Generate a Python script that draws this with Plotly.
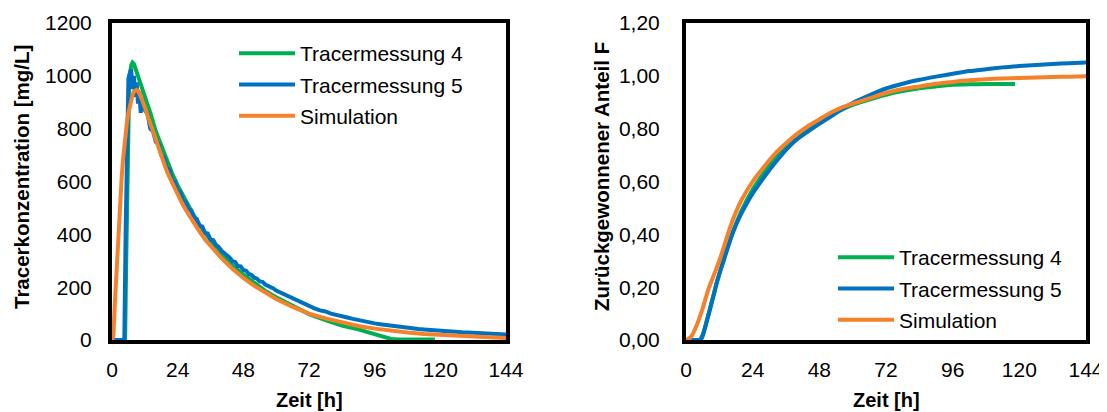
import plotly.graph_objects as go

# ---------------- data: tracer concentration (left chart) ----------------
t_meas4 = [0, 4.8, 5.2, 5.8, 6.3, 7.0, 7.5, 8, 9, 10, 12, 14, 16, 18, 20, 22, 24, 26, 28, 30,
           32, 34, 36, 38, 40, 44, 48, 52, 56, 60, 66, 72, 78, 84, 90, 94, 98, 102, 105, 112, 118]
c_meas4 = [0, 0, 300, 800, 980, 1040, 1050, 1045, 1015, 985, 925, 860, 790, 735, 680, 630,
           585, 545, 505, 470, 435, 405, 375, 350, 325, 282, 248, 215, 186, 162, 128, 98, 75,
           55, 40, 28, 15, 4, 2, 2, 2]

t_meas5 = [0, 1, 2, 3, 4, 4.5, 5, 5.5, 6, 6.5, 7, 7.5, 8, 8.5, 9, 9.5, 10, 10.5, 11, 12, 13,
           14, 15, 16, 17, 18, 19, 20, 21, 22, 23, 24, 25, 26, 27, 28, 29, 30, 31, 32, 33,
           34, 35, 36, 37, 38, 39, 40, 41, 42, 43, 44, 45, 46, 47, 48, 49, 50, 51, 52, 53,
           54, 55, 56, 57, 58, 59, 60, 61, 62, 63, 64, 65, 66, 67, 68, 69, 70, 71, 72, 74,
           76, 78, 80, 82, 84, 86, 88, 90, 92, 94, 96, 98, 100, 102, 104, 106, 108, 110,
           112, 114, 116, 118, 120, 122, 124, 126, 128, 130, 132, 134, 136, 138, 140, 142, 144]
c_meas5 = [0, 0, 0, 0, 0, 0, 420, 830, 990, 1010, 1025, 950, 1000, 920, 975, 895, 940, 860,
           915, 870, 855, 800, 790, 750, 742, 700, 692, 650, 645, 600, 598, 565, 560, 525,
           522, 495, 490, 462, 458, 432, 430, 405, 403, 380, 378, 360, 352, 338, 330, 318,
           312, 298, 295, 280, 279, 265, 262, 250, 246, 236, 232, 222, 220, 210, 206, 198,
           195, 187, 182, 176, 174, 166, 163, 156, 153, 147, 142, 136, 132, 128, 120, 112,
           108, 100, 96, 89, 85, 80, 75, 71, 66, 63, 60, 57, 54, 52, 49, 47, 44, 42, 40, 38,
           36, 35, 33, 32, 30, 29, 28, 27, 26, 25, 24, 23, 22, 21]

t_sim = [0, 0.5, 1, 1.5, 2, 2.5, 3, 3.5, 4, 4.5, 5, 5.5, 6, 6.5, 7, 7.5, 8, 8.5, 9, 9.5, 10,
         11, 12, 13, 14, 15, 16, 17, 18, 19, 20, 22, 24, 26, 28, 30, 32, 34, 36, 38, 40, 44,
         48, 52, 56, 60, 66, 72, 78, 84, 90, 96, 102, 108, 114, 120, 126, 132, 138, 144]
c_sim = [0, 15, 130, 235, 340, 440, 530, 610, 680, 740, 790, 828, 860, 887, 910, 927, 940,
         945, 947, 944, 935, 910, 880, 850, 820, 785, 750, 725, 700, 670, 640, 595, 550, 510,
         475, 440, 410, 380, 355, 330, 310, 270, 235, 205, 178, 155, 125, 100, 82, 66, 53,
         43, 35, 28, 23, 19, 15, 12, 10, 8]

# ---------------- data: recovered fraction F (right chart) ----------------
tF_meas4 = [0, 4.8, 6, 8, 10, 12, 14, 16, 18, 20, 24, 28, 32, 36, 40, 44, 48, 52, 56, 60,
            66, 72, 78, 84, 90, 96, 102, 108, 114, 118.5]
F_meas4 = [0, 0, 0.02, 0.095, 0.175, 0.25, 0.32, 0.385, 0.44, 0.49, 0.57, 0.632, 0.686,
           0.728, 0.768, 0.8, 0.828, 0.853, 0.872, 0.89, 0.91, 0.928, 0.942, 0.953, 0.96,
           0.966, 0.968, 0.969, 0.969, 0.969]

tF_meas5 = [0, 4, 5.3, 6, 7, 8, 9, 10, 11, 12, 14, 16, 18, 20, 24, 28, 32, 36, 40, 44, 48,
            52, 56, 60, 66, 72, 78, 84, 90, 96, 102, 108, 114, 120, 126, 132, 138, 144]
F_meas5 = [0, 0, 0, 0.015, 0.05, 0.09, 0.13, 0.17, 0.215, 0.25, 0.315, 0.38, 0.435, 0.48,
           0.555, 0.615, 0.67, 0.72, 0.76, 0.79, 0.818, 0.845, 0.872, 0.897, 0.926, 0.952,
           0.97, 0.985, 0.997, 1.008, 1.018, 1.025, 1.032, 1.037, 1.041, 1.045, 1.048, 1.05]

tF_sim = [0, 1, 2, 4, 6, 8, 10, 12, 14, 16, 18, 20, 24, 28, 32, 36, 40, 44, 48, 52, 56, 60,
          66, 72, 78, 84, 90, 96, 102, 108, 114, 120, 126, 132, 138, 144]
F_sim = [0, 0.005, 0.015, 0.06, 0.12, 0.19, 0.245, 0.30, 0.365, 0.43, 0.485, 0.53, 0.60,
         0.655, 0.705, 0.745, 0.78, 0.81, 0.835, 0.86, 0.88, 0.895, 0.915, 0.935, 0.95, 0.96,
         0.97, 0.977, 0.983, 0.987, 0.99, 0.992, 0.994, 0.996, 0.997, 0.998]

x_ticks = [0, 24, 48, 72, 96, 120, 144]
names = ["Tracermessung 4", "Tracermessung 5", "Simulation"]
colors = ["#00B050", "#0070C0", "#F5822A"]

FONT = "Liberation Sans, Arial, sans-serif"
OFF = 8                      # default page body margin
W, H = 1107 - OFF, 412 - OFF

fig = go.Figure()

left_series = [(t_meas4, c_meas4), (t_meas5, c_meas5), (t_sim, c_sim)]
right_series = [(tF_meas4, F_meas4), (tF_meas5, F_meas5), (tF_sim, F_sim)]

for i, (xs, ys) in enumerate(left_series):
    fig.add_trace(go.Scatter(x=xs, y=ys, mode="lines", name=names[i],
                             line=dict(color=colors[i], width=4, shape="linear"),
                             xaxis="x", yaxis="y", legend="legend",
                             legendgroup="l%d" % i))
for i, (xs, ys) in enumerate(right_series):
    fig.add_trace(go.Scatter(x=xs, y=ys, mode="lines", name=names[i],
                             line=dict(color=colors[i], width=4, shape="spline",
                                       smoothing=0.6),
                             xaxis="x2", yaxis="y2", legend="legend2",
                             legendgroup="r%d" % i))

def px_x(p):
    return (p - OFF) / W

def px_y(p):
    return 1 - (p - OFF) / H

ydom = [px_y(340), px_y(23)]

axis_common = dict(showgrid=False, zeroline=False, showline=True, linecolor="black",
                   linewidth=4, mirror=True, ticks="outside", tickcolor="rgba(0,0,0,0)",
                   automargin=False, ticklabeloverflow="allow",
                   tickfont=dict(family=FONT, size=21, color="#000000"))

def title_ann(text, x, y, angle=0, size=21):
    return dict(text="<b>%s</b>" % text, x=px_x(x), y=px_y(y), xref="paper", yref="paper",
                xanchor="center", yanchor="middle", showarrow=False, textangle=angle,
                font=dict(family=FONT, size=size, color="#000000"))

fig.update_layout(
    width=W, height=H,
    margin=dict(l=0, r=0, t=0, b=0),
    paper_bgcolor="white", plot_bgcolor="white",
    separators=",.",
    xaxis=dict(domain=[px_x(112), px_x(506)], range=[0, 144], tickvals=x_ticks,
               ticklen=8, anchor="y", **axis_common),
    yaxis=dict(domain=ydom, range=[0, 1200], dtick=200, ticklen=12, anchor="x",
               **axis_common),
    xaxis2=dict(domain=[px_x(686), px_x(1086)], range=[0, 144], tickvals=x_ticks,
                ticklen=8, anchor="y2", **axis_common),
    yaxis2=dict(domain=ydom, range=[0, 1.2], dtick=0.2, tickformat=".2f", ticklen=18,
                anchor="x2", **axis_common),
    legend=dict(x=px_x(234), y=px_y(33), xanchor="left", yanchor="top",
                bgcolor="rgba(0,0,0,0)", font=dict(family=FONT, size=21, color="#000000"),
                traceorder="grouped", tracegroupgap=1, itemwidth=56),
    legend2=dict(x=px_x(833), y=px_y(237), xanchor="left", yanchor="top",
                 bgcolor="rgba(0,0,0,0)", font=dict(family=FONT, size=21, color="#000000"),
                 traceorder="grouped", tracegroupgap=1, itemwidth=56),
    annotations=[
        title_ann("Zeit [h]", 309, 400, 0, 20),
        title_ann("Zeit [h]", 886, 400, 0, 20),
        title_ann("Tracerkonzentration [mg/L]", 22, 177, -90, 20.5),
        title_ann("Zurückgewonnener Anteil F", 602, 177, -90, 20.5),
    ],
)

fig.write_html("out.html", default_width="%dpx" % W, default_height="%dpx" % H)
